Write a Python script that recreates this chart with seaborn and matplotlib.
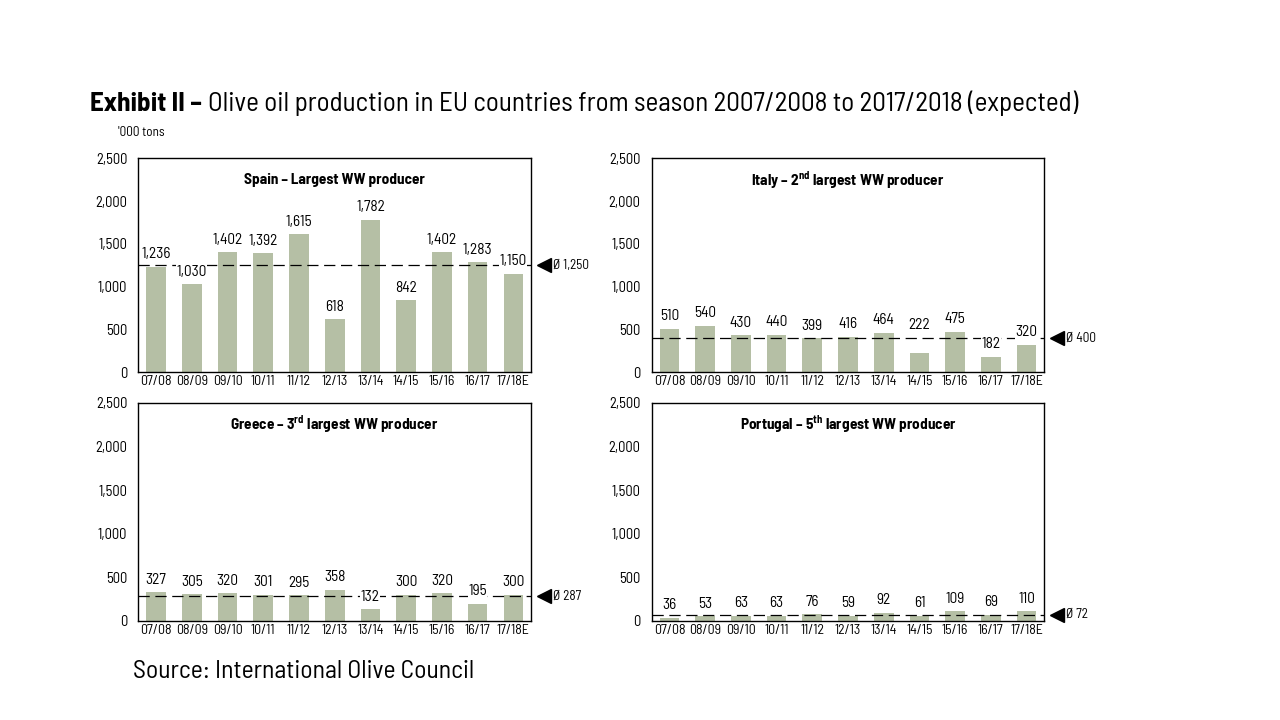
import matplotlib
matplotlib.use("Agg")
import matplotlib.pyplot as plt
import matplotlib.transforms as mtransforms
import seaborn as sns

seasons = ["07/08", "08/09", "09/10", "10/11", "11/12", "12/13",
           "13/14", "14/15", "15/16", "16/17", "17/18E"]
spain = [1236, 1030, 1402, 1392, 1615, 618, 1782, 842, 1402, 1283, 1150]
italy = [510, 540, 430, 440, 399, 416, 464, 222, 475, 182, 320]
greece = [327, 305, 320, 301, 295, 358, 132, 300, 320, 195, 300]
portugal = [36, 53, 63, 63, 76, 59, 92, 61, 109, 69, 110]
averages = [1250, 400, 287, 72]
panel_titles = [
    "Spain – Largest WW producer",
    r"Italy – 2$^{\mathbf{nd}}$ largest WW producer",
    r"Greece – 3$^{\mathbf{rd}}$ largest WW producer",
    r"Portugal – 5$^{\mathbf{th}}$ largest WW producer",
]

FONT = "Barlow Semi Condensed"
sns.set_style("white")
plt.rcParams["font.family"] = [FONT, "DejaVu Sans"]
plt.rcParams["text.color"] = "black"
plt.rcParams["xtick.color"] = "black"
plt.rcParams["ytick.color"] = "black"
plt.rcParams["mathtext.fontset"] = "custom"
plt.rcParams["mathtext.bf"] = FONT + ":bold"
plt.rcParams["mathtext.rm"] = FONT

BAR = "#b5bfa5"
fig = plt.figure(figsize=(12.8, 7.2), dpi=100)

positions = [
    [0.108, 0.483, 0.307, 0.297],
    [0.509, 0.483, 0.307, 0.297],
    [0.108, 0.1375, 0.307, 0.303],
    [0.509, 0.1375, 0.307, 0.303],
]
series = [spain, italy, greece, portugal]
# labels that the original lifts above the average line: (panel, bar)
lifted = {(1, 7)}

for i, (pos, vals, avg, ttl) in enumerate(zip(positions, series, averages, panel_titles)):
    ax = fig.add_axes(pos)
    sns.barplot(x=seasons, y=vals, color=BAR, width=0.55, ax=ax,
                saturation=1, edgecolor="none")
    ax.set_ylim(0, 2500)
    ax.set_yticks(range(0, 2501, 500))
    ax.set_yticklabels([f"{v:,}" for v in range(0, 2501, 500)], fontsize=10.5)
    ax.tick_params(axis="y", direction="out", length=5, width=1, color="black", pad=3)
    ax.tick_params(axis="x", length=0, labelsize=10, pad=2)
    ax.set_xlim(-0.5, len(seasons) - 0.5)
    ax.set_xlabel("")
    ax.set_ylabel("")
    for s in ax.spines.values():
        s.set_visible(True)
        s.set_color("black")
        s.set_linewidth(1)
    ax.axhline(avg, color="black", linestyle=(0, (9, 4.5)), linewidth=0.9, zorder=1)
    labels = ax.bar_label(ax.containers[0], labels=[f"{v:,}" for v in vals],
                          padding=4, fontsize=11)
    for j, t in enumerate(labels):
        t.set_bbox(dict(facecolor="white", edgecolor="none", pad=0.3))
        if (i, j) in lifted:
            t.xyann = (0, 15)
    ax.text(0.5, 0.9, ttl, transform=ax.transAxes, ha="center", va="center",
            fontsize=11, fontweight="bold")
    trans = mtransforms.blended_transform_factory(ax.transAxes, ax.transData)
    ax.plot([1.033], [avg], marker="<", markersize=10, color="black",
            transform=trans, clip_on=False)
    ax.text(1.055, avg, f"Ø {avg:,}", transform=trans, ha="left", va="center",
            fontsize=9.5)

t1 = fig.text(0.070, 0.856, "Exhibit II –", fontsize=19.5, fontweight="bold",
              ha="left", va="center")
fig.canvas.draw()
bb = t1.get_window_extent()
fig.text((bb.x1 + 7) / fig.bbox.width, 0.856,
         "Olive oil production in EU countries from season 2007/2008 to 2017/2018 (expected)",
         fontsize=19.5, ha="left", va="center")
fig.text(0.092, 0.816, "'000 tons", fontsize=9.5, ha="left", va="center")
fig.text(0.104, 0.067, "Source: International Olive Council", fontsize=18.5,
         ha="left", va="center")

fig.savefig("out.png", dpi=100)
